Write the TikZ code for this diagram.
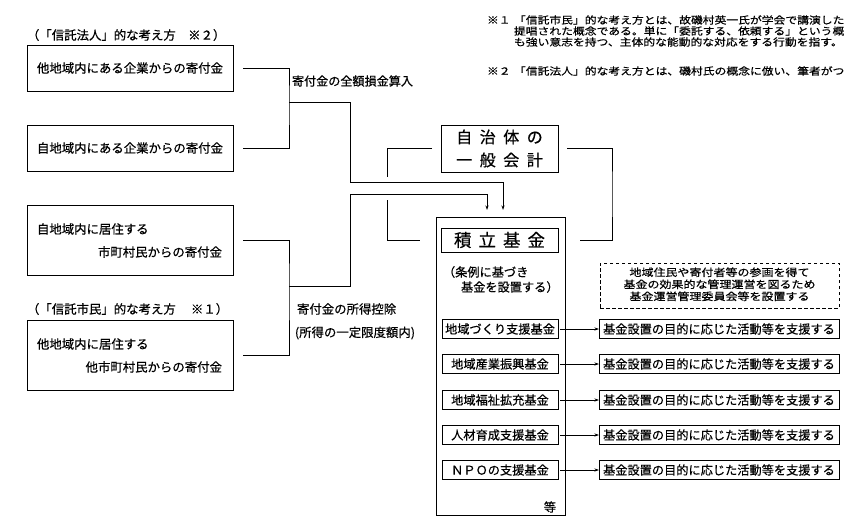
\documentclass[tikz,border=0pt]{standalone}
\usepackage{fontspec}
\usepackage{graphicx}
\setmainfont{Noto Sans CJK JP}[FakeBold=0.5]
\usetikzlibrary{arrows.meta}
\newcommand{\jfs}[1]{\fontsize{#1pt}{#1pt}\selectfont}
\begin{document}
\begin{tikzpicture}[x=1pt,y=-1pt,
  every node/.style={inner sep=0pt, outer sep=0pt, font=\jfs{12.4}},
  srcbox/.style={draw, line width=0.9pt, minimum width=206pt, minimum height=46pt},
  tallbox/.style={draw, line width=0.9pt, minimum width=206pt, minimum height=70pt},
  fundbox/.style={draw, line width=0.9pt, minimum width=116pt, minimum height=19pt, font=\jfs{12.2}},
  tgtbox/.style={draw, line width=0.9pt, minimum width=240pt, minimum height=19pt, font=\jfs{12.2}},
  conn/.style={line width=0.8pt},
  arr/.style={line width=0.8pt, -{Stealth[length=4.5pt,width=3pt]}},
  note/.style={anchor=west, font=\jfs{11.8}}]
\fill[white] (0,0) rectangle (856,524);
\clip (0,0) rectangle (856,524);

% footnotes
\node[note] (n1m) at (487,20) {\scalebox{1}[0.85]{※１}};
\node[note] (n1a) at (514,20) {\scalebox{1}[0.85]{「信託市民」的な考え方とは、故磯村英一氏が学会で講演した}};
\node[note] (n1b) at (514,31) {\scalebox{1}[0.85]{提唱された概念である。単に「委託する、依頼する」という概}};
\node[note] (n1c) at (514,42) {\scalebox{1}[0.85]{も強い意志を持つ、主体的な能動的な対応をする行動を指す。}};
\node[note] (n2m) at (487,71) {\scalebox{1}[0.85]{※２}};
\node[note] (n2a) at (514,71) {\scalebox{1}[0.85]{「信託法人」的な考え方とは、磯村氏の概念に倣い、筆者がつ}};

% left labels and boxes
\node[anchor=west] (lab2) at (27,35) {（「信託法人」的な考え方　※２）};
\node[srcbox] (b1) at (130,68) {他地域内にある企業からの寄付金};
\node[srcbox] (b2) at (130,148) {自地域内にある企業からの寄付金};
\node[tallbox] (b3) at (130,240) {};
\node[anchor=west] (b3a) at (37,229) {自地域内に居住する};
\node[anchor=east] (b3b) at (222,252) {市町村民からの寄付金};
\node[anchor=west] (lab1) at (27,309) {（「信託市民」的な考え方　 ※１）};
\node[tallbox] (b4) at (130,355) {};
\node[anchor=west] (b4a) at (37,344) {他地域内に居住する};
\node[anchor=east] (b4b) at (222,367) {他市町村民からの寄付金};

% middle labels
\node[anchor=west, font=\jfs{12.1}] (t1) at (292,81) {寄付金の全額損金算入};
\node[anchor=west] (t2) at (297,309) {寄付金の所得控除};
\node[anchor=west] (t3) at (295,333) {(所得の一定限度額内)};

% general account
\node[draw, line width=0.9pt, minimum width=117pt, minimum height=47pt, align=center,
      font=\fontsize{16pt}{23pt}\selectfont] (gen) at (499.5,148.5)
  {自\hspace{7.5pt}治\hspace{7.5pt}体\hspace{7.5pt}の\\一\hspace{7.5pt}般\hspace{7.5pt}会\hspace{7.5pt}計};

% fund outer box
\node[draw, line width=0.9pt, minimum width=129pt, minimum height=298pt] (fund) at (500.5,366) {};
\node[draw, line width=0.9pt, minimum width=117pt, minimum height=24pt, font=\jfs{17.5}] (tsumi) at (499.5,240)
  {積\hspace{7pt}立\hspace{7pt}基\hspace{7pt}金};
\node[anchor=west, font=\jfs{12.2}] (jo1) at (443,272) {（条例に基づき};
\node[anchor=west, font=\jfs{12.2}] (jo2) at (461,287) {基金を設置する）};
\node[font=\jfs{12.2}] (etc) at (550,507) {等};

% dashed committee box
\node[draw, dashed, dash pattern=on 3.5pt off 2.5pt, line width=0.9pt, minimum width=239pt, minimum height=45pt,
      font=\fontsize{12pt}{12.8pt}\selectfont] (db) at (719.5,285.5)
  {\scalebox{1}[0.86]{\begin{tabular}{@{}c@{}}地域住民や寄付者等の参画を得て\\基金の効果的な管理運営を図るため\\基金運営管理委員会等を設置する\end{tabular}}};

% funds and targets
\node[fundbox] (f1) at (500,329) {地域づくり支援基金};
\node[fundbox] (f2) at (500,364) {地域産業振興基金};
\node[fundbox] (f3) at (500,400) {地域福祉拡充基金};
\node[fundbox] (f4) at (500,435) {人材育成支援基金};
\node[fundbox] (f5) at (500,470) {ＮＰＯの支援基金};
\node[tgtbox] (g1) at (719,329) {基金設置の目的に応じた活動等を支援する};
\node[tgtbox] (g2) at (719,364) {基金設置の目的に応じた活動等を支援する};
\node[tgtbox] (g3) at (719,400) {基金設置の目的に応じた活動等を支援する};
\node[tgtbox] (g4) at (719,435) {基金設置の目的に応じた活動等を支援する};
\node[tgtbox] (g5) at (719,470) {基金設置の目的に応じた活動等を支援する};
\foreach \i in {1,...,5} {
  \draw[arr] ([xshift=2pt]f\i.east) -- (g\i.west);
}

% connectors: corporate donations
\coordinate (jA) at (289,102);
\coordinate (kA) at (350,182);
\coordinate (aA) at (503,210);
\draw[conn] ([xshift=10pt]b1.east) -| (jA) |- ([xshift=10pt]b2.east);
\draw[arr] (jA) -| (kA) -| (aA);

% connectors: citizen donations
\coordinate (jB) at (289,286);
\coordinate (kB) at (350,194);
\coordinate (aB) at (487,210);
\draw[conn] ([xshift=10pt]b3.east) -| (jB) |- ([xshift=10pt]b4.east);
\draw[arr] (jB) -| (kB) -| (aB);

% brackets between general account and fund
\coordinate (cL1) at (387,177);
\coordinate (cL2) at (387,200);
\draw[conn] ([xshift=-9pt]gen.west) -| (cL1);
\draw[conn] (cL2) |- ([xshift=-16pt]tsumi.west -| fund.west);
\coordinate (cR) at (612,194);
\draw[conn] ([xshift=9pt]gen.east) -| (cR) |- ([xshift=15pt]tsumi.east -| fund.east);
\end{tikzpicture}
\end{document}
